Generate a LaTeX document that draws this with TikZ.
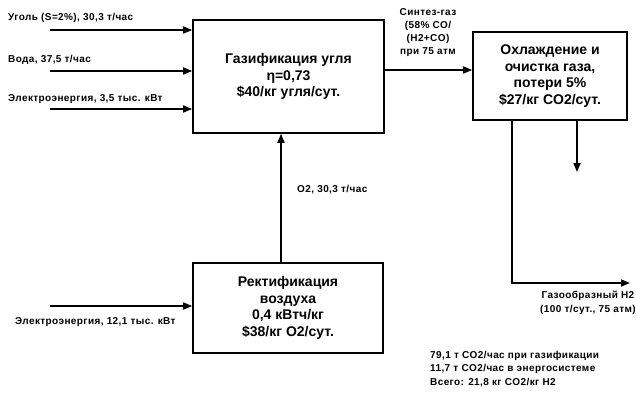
\documentclass[tikz,border=0pt]{standalone}
\usepackage{fontspec}
\setmainfont{Liberation Sans}
\usetikzlibrary{arrows.meta}
\begin{document}
\begin{tikzpicture}[x=1pt,y=-1pt,
  box/.style={draw, line width=1.6pt, align=center, inner sep=0pt, font=\bfseries\fontsize{14}{16.5}\selectfont},
  flow/.style={line width=1.6pt, -{Triangle[length=9pt,width=7pt]}},
  lbl/.style={inner sep=0pt, font=\bfseries\fontsize{10}{13.5}\selectfont\addfontfeatures{LetterSpace=4}}]
\useasboundingbox (0,0) rectangle (636,394);
% boxes
\node[box, minimum width=191pt, minimum height=113pt] (gas) at (288.5,76.5) {Газификация угля\\η=0,73\\\$40/кг угля/сут.};
\node[box, minimum width=154pt, minimum height=88pt] (clean) at (550,76) {Охлаждение и\\очистка газа,\\потери 5\%\\\$27/кг CO2/сут.};
\node[box, minimum width=190pt, minimum height=90pt] (air) at (288,308) {Ректификация\\воздуха\\0,4 кВтч/кг\\\$38/кг O2/сут.};
% inputs to gasification
\coordinate (i1) at (50,30);
\coordinate (i2) at (50,71);
\coordinate (i3) at (50,109);
\draw[flow] (i1) -- (i1 -| gas.west);
\draw[flow] (i2) -- (i2 -| gas.west);
\draw[flow] (i3) -- (i3 -| gas.west);
\node[lbl, anchor=west] (l1) at (8,18) {Уголь (S=2\%), 30,3 т/час};
\node[lbl, anchor=west] (l2) at (8,60) {Вода, 37,5 т/час};
\node[lbl, anchor=west] (l3) at (8,99) {Электроэнергия, 3,5 тыс. кВт};
% syngas
\coordinate (s1) at (384,70);
\draw[flow] (s1) -- (s1 -| clean.west);
\node[lbl, align=center, anchor=center, font=\bfseries\fontsize{10}{13}\selectfont\addfontfeatures{LetterSpace=4}] (ls) at (428,33) {Синтез-газ\\(58\% CO/\\(H2+CO)\\при 75 атм};
% O2
\coordinate (o1) at (281,263);
\draw[flow] (o1) -- (o1 |- gas.south);
\node[lbl, anchor=west] (lo) at (297,190) {O2, 30,3 т/час};
% electricity to air
\coordinate (e2) at (50,306);
\draw[flow] (e2) -- (e2 -| air.west);
\node[lbl, anchor=west] (le) at (15,322) {Электроэнергия, 12,1 тыс. кВт};
% outputs of cleaning
\coordinate (d1) at (577,120);
\coordinate (d2) at (577,172);
\draw[flow] (d1) -- (d2);
\coordinate (h0) at (512,120);
\coordinate (h1) at (512,283);
\coordinate (h2) at (630,283);
\draw[flow] (h0) -- (h1) -- (h2);
\node[lbl, align=center, anchor=north] (lh) at (588,291) {Газообразный H2\\(100 т/сут., 75 атм)};
% totals
\node[lbl, align=left, anchor=north west] (lt) at (430,351) {79,1 т CO2/час при газификации\\11,7 т CO2/час в энергосистеме\\Всего: 21,8 кг CO2/кг H2};
\end{tikzpicture}
\end{document}
